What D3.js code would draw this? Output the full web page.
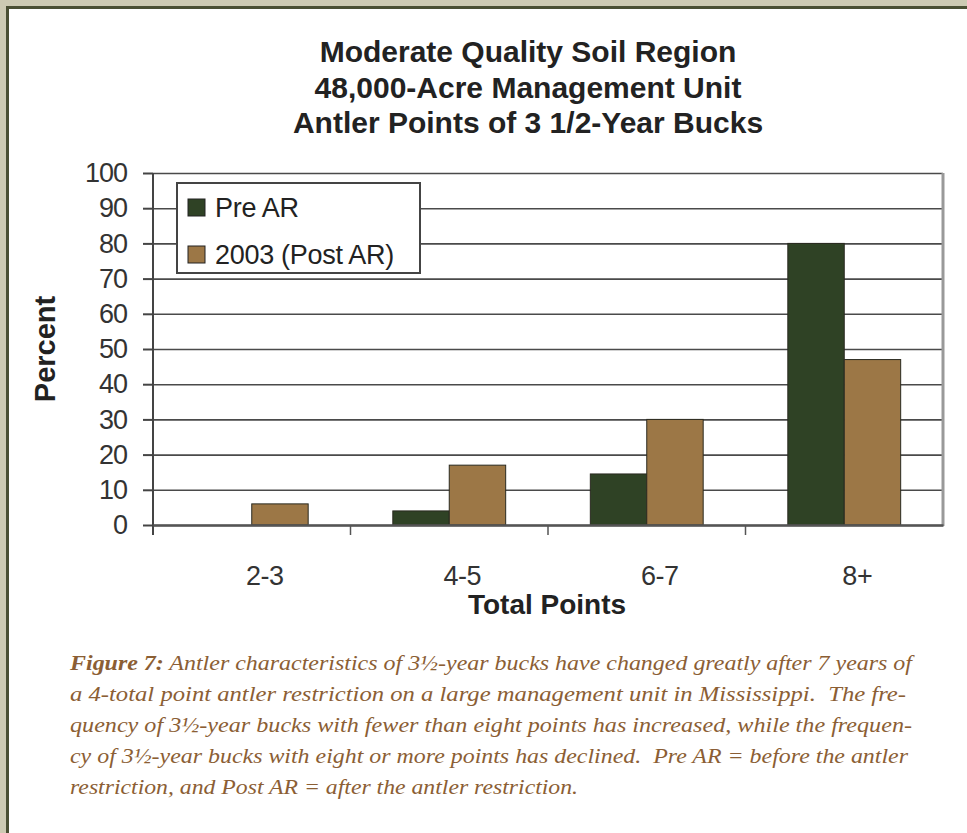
<!DOCTYPE html>
<html lang="en">
<head>
    <meta charset="UTF-8">
    <title>Antler Points of 3 1/2-Year Bucks</title>
    <script src="https://d3js.org/d3.v7.min.js" charset="utf-8"></script>
    <style>
        html, body {
            margin: 0;
            padding: 0;
            background: #cdcab3;
        }
        svg {
            display: block;
        }
        .caption text {
            white-space: pre;
        }
    </style>
</head>
<body>
    <div id="chart"></div>
    <script>

    // chart data
    var categories = ['2-3', '4-5', '6-7', '8+'];
    var seriesNames = ['Pre AR', '2003 (Post AR)'];
    var preAR = [0, 4, 14.5, 80];
    var postAR = [6, 17, 30, 47];
    var yTickValues = [0, 10, 20, 30, 40, 50, 60, 70, 80, 90, 100];
    var titleLines = ['Moderate Quality Soil Region', '48,000-Acre Management Unit', 'Antler Points of 3 1/2-Year Bucks'];
    var captionLines = [
        ' Antler characteristics of 3\u00BD-year bucks have changed greatly after 7 years of',
        'a 4-total point antler restriction on a large management unit in Mississippi.  The fre-',
        'quency of 3\u00BD-year bucks with fewer than eight points has increased, while the frequen-',
        'cy of 3\u00BD-year bucks with eight or more points has declined.  Pre AR = before the antler',
        'restriction, and Post AR = after the antler restriction.'
    ];

    var colors = ['#2f4225', '#9c7746'];
    var sans = '"Liberation Sans", Arial, sans-serif';

    var width = 967, height = 833;

    var svg = d3.select('#chart')
        .append('svg')
        .attr('width', width)
        .attr('height', height);

    // panel: dark rule on top/left, white inside
    svg.append('rect')
        .attr('x', 6).attr('y', 6)
        .attr('width', width).attr('height', height)
        .attr('fill', '#4a4f34');
    svg.append('rect')
        .attr('x', 9).attr('y', 9)
        .attr('width', width).attr('height', height)
        .attr('fill', '#ffffff');

    // title
    svg.append('g').selectAll('text')
        .data(titleLines)
        .enter()
        .append('text')
        .attr('x', 528)
        .attr('y', (d, i) => 62 + i * 35.5)
        .attr('text-anchor', 'middle')
        .style('font-family', sans)
        .style('font-weight', 'bold')
        .style('font-size', '30px')
        .attr('fill', '#222')
        .text(d => d);

    // scales
    var x0 = d3.scaleBand()
        .domain(categories)
        .range([153, 943])
        .padding(0);

    var x1 = d3.scaleBand()
        .domain(seriesNames)
        .range([0, x0.bandwidth()])
        .paddingInner(0)
        .paddingOuter(0.75);

    var y = d3.scaleLinear()
        .domain([0, 100])
        .range([525, 173]);

    var g = svg.append('g').attr('class', 'plot');

    // gridlines
    g.append('g')
        .attr('class', 'grid')
        .attr('transform', 'translate(153,0)')
        .call(d3.axisLeft(y).tickValues(yTickValues).tickSize(-(943 - 153)).tickFormat(''))
        .call(s => s.select('.domain').remove())
        .call(s => s.selectAll('line').attr('stroke', '#4a4a4a').attr('stroke-width', 1.6));

    // right border of plot area
    g.append('line')
        .attr('x1', 943).attr('x2', 943)
        .attr('y1', y(100)).attr('y2', y(0) + 1)
        .attr('stroke', '#999').attr('stroke-width', 3);

    // bars
    var rows = categories.map((c, i) => ({cat: c, values: [preAR[i], postAR[i]]}));

    var groups = g.selectAll('.group')
        .data(rows)
        .enter()
        .append('g')
        .attr('class', 'group')
        .attr('transform', d => 'translate(' + x0(d.cat) + ',0)');

    groups.selectAll('rect')
        .data(d => d.values.map((v, j) => ({name: seriesNames[j], value: v, idx: j})))
        .enter()
        .filter(d => d.value > 0)
        .append('rect')
        .attr('x', d => x1(d.name))
        .attr('y', d => y(d.value))
        .attr('width', x1.bandwidth())
        .attr('height', d => y(0) - y(d.value))
        .attr('fill', d => colors[d.idx])
        .attr('stroke', '#2a2a20')
        .attr('stroke-width', 1);

    // y axis
    var yAxis = g.append('g')
        .attr('class', 'y-axis')
        .attr('transform', 'translate(153,0)')
        .call(d3.axisLeft(y).tickValues(yTickValues).tickSize(10).tickPadding(16).tickSizeOuter(0));
    yAxis.select('.domain').attr('stroke', '#444').attr('stroke-width', 2).attr('d', 'M0,' + y(100) + 'V' + (y(0) + 10));
    yAxis.selectAll('line').attr('stroke', '#444').attr('stroke-width', 2);
    yAxis.selectAll('text')
        .style('font-family', sans)
        .style('font-size', '27px')
        .style('letter-spacing', '-1px')
        .attr('fill', '#333');

    // x axis: baseline, boundary ticks, labels
    var xAxis = g.append('g')
        .attr('class', 'x-axis')
        .attr('transform', 'translate(0,' + y(0) + ')')
        .call(d3.axisBottom(x0).tickSize(0).tickPadding(41));
    xAxis.select('.domain').attr('stroke', '#555').attr('stroke-width', 2.5);
    xAxis.selectAll('.tick text')
        .attr('dx', 13)
        .style('font-family', sans)
        .style('font-size', '27px')
        .style('letter-spacing', '-0.5px')
        .attr('fill', '#333');

    var boundaries = categories.map(c => x0(c)).concat([x0.range()[1]]);
    xAxis.selectAll('.bound')
        .data(boundaries.slice(1, 4))
        .enter()
        .append('line')
        .attr('class', 'bound')
        .attr('x1', d => d).attr('x2', d => d)
        .attr('y1', 0).attr('y2', 10)
        .attr('stroke', '#555').attr('stroke-width', 1.5);

    // axis titles
    svg.append('text')
        .attr('transform', 'translate(55,349) rotate(-90)')
        .attr('text-anchor', 'middle')
        .style('font-family', sans)
        .style('font-weight', 'bold')
        .style('font-size', '29px')
        .attr('fill', '#222')
        .text('Percent');

    svg.append('text')
        .attr('x', 547)
        .attr('y', 614)
        .attr('text-anchor', 'middle')
        .style('font-family', sans)
        .style('font-weight', 'bold')
        .style('font-size', '28px')
        .attr('fill', '#222')
        .text('Total Points');

    // legend
    var legend = svg.append('g').attr('class', 'legend');
    legend.append('rect')
        .attr('x', 177).attr('y', 183)
        .attr('width', 243).attr('height', 90)
        .attr('fill', '#fff')
        .attr('stroke', '#444')
        .attr('stroke-width', 2);

    var items = legend.selectAll('.item')
        .data(seriesNames)
        .enter()
        .append('g')
        .attr('class', 'item')
        .attr('transform', (d, i) => 'translate(188,' + (199 + i * 47) + ')');

    items.append('rect')
        .attr('width', 17).attr('height', 17)
        .attr('fill', (d, i) => colors[i])
        .attr('stroke', '#222')
        .attr('stroke-width', 1);

    items.append('text')
        .attr('x', 27)
        .attr('y', 18)
        .style('font-family', sans)
        .style('font-size', '27px')
        .style('letter-spacing', '-0.3px')
        .attr('fill', '#222')
        .text(d => d);

    // caption
    var captionEnds = [912, 906, 912, 908, 578];
    var caption = svg.append('g').attr('class', 'caption');
    captionLines.forEach((line, i) => {
        var t = caption.append('text')
            .attr('x', 70)
            .attr('y', 670 + i * 31)
            .attr('textLength', captionEnds[i] - 70)
            .attr('lengthAdjust', 'spacingAndGlyphs')
            .style('font-family', '"Liberation Serif", "DejaVu Serif", serif')
            .style('font-style', 'italic')
            .style('font-size', '22px')
            .attr('fill', '#8b5e34');
        if (i === 0) {
            t.append('tspan').style('font-weight', 'bold').text('Figure 7:');
        }
        t.append('tspan').text(line);
    });

    </script>
</body>
</html>
